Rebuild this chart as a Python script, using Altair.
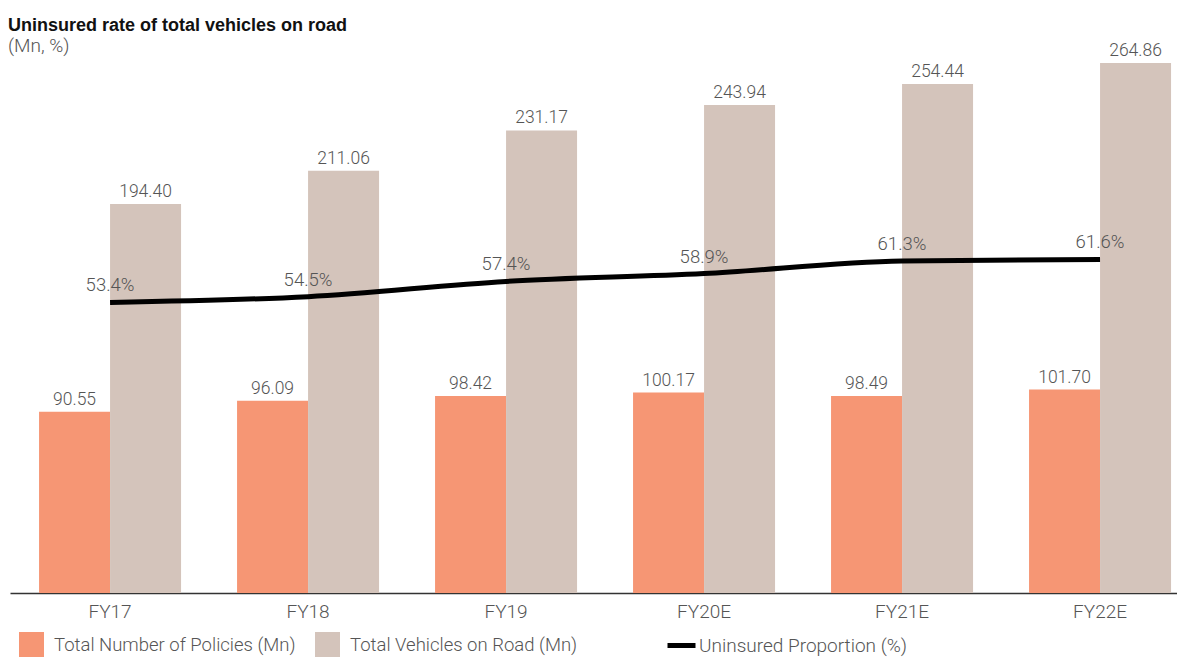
import altair as alt
import pandas as pd

categories = ["FY17", "FY18", "FY19", "FY20E", "FY21E", "FY22E"]
policies = [90.55, 96.09, 98.42, 100.17, 98.49, 101.70]
vehicles = [194.40, 211.06, 231.17, 243.94, 254.44, 264.86]
uninsured = [53.4, 54.5, 57.4, 58.9, 61.3, 61.6]

series_names = ["Total Number of Policies (Mn)", "Total Vehicles on Road (Mn)"]
line_name = "Uninsured Proportion (%)"
bar_colors = ["#F69674", "#D4C4BB"]

rows = []
for i, c in enumerate(categories):
    rows.append({"cat": c, "series": series_names[0], "value": policies[i]})
    rows.append({"cat": c, "series": series_names[1], "value": vehicles[i]})
bars_df = pd.DataFrame(rows)
line_df = pd.DataFrame({"cat": categories, "pct": uninsured, "name": [line_name] * len(categories)})

FONT = "Roboto"
TXT = "#555555"
LW = 300

x_enc = alt.X(
    "cat:N",
    sort=categories,
    scale=alt.Scale(paddingInner=0.2828, paddingOuter=0.0884, align=0.83),
    axis=alt.Axis(
        title=None, labelAngle=0, ticks=False, labelPadding=9, labelFontSize=19,
        labelColor=TXT, labelFont=FONT, labelFontWeight=LW,
        domainColor="#333333", domainWidth=1.5, grid=False,
    ),
)
y_bar = alt.Y("value:Q", scale=alt.Scale(domain=[0, 267.4], nice=False, zero=True), axis=None)

base_bar = alt.Chart(bars_df).encode(
    x=x_enc,
    xOffset=alt.XOffset("series:N", sort=series_names, scale=alt.Scale(domain=series_names, paddingInner=0, paddingOuter=0)),
    y=y_bar,
)
bars = base_bar.mark_bar().encode(
    color=alt.Color(
        "series:N",
        scale=alt.Scale(domain=series_names, range=bar_colors),
        legend=alt.Legend(
            title=None, orient="none", legendX=9, legendY=574, direction="horizontal",
            symbolType="square", symbolSize=625, symbolStrokeWidth=0, symbolOpacity=1,
            labelFontSize=18.5, labelColor=TXT, labelFont=FONT, labelFontWeight=LW,
            labelOffset=10, labelLimit=0, columnPadding=19, padding=0,
        ),
    )
)
bar_text = base_bar.mark_text(
    dy=-7, fontSize=17.5, color=TXT, font=FONT, fontWeight=LW, baseline="alphabetic"
).encode(text=alt.Text("value:Q", format=".2f"))

y_line = alt.Y("pct:Q", scale=alt.Scale(domain=[-2, 100], nice=False, zero=False), axis=None)
line = alt.Chart(line_df).mark_line(interpolate="monotone", strokeWidth=5).encode(
    x=alt.X("cat:N", sort=categories),
    y=y_line,
    stroke=alt.Stroke(
        "name:N",
        scale=alt.Scale(domain=[line_name], range=["#000000"]),
        legend=alt.Legend(
            title=None, orient="none", legendX=655, legendY=571, direction="horizontal",
            symbolType="stroke", symbolSize=784, symbolStrokeWidth=5,
            labelFontSize=19, labelColor=TXT, labelFont=FONT, labelFontWeight=LW,
            labelOffset=1, labelLimit=0, padding=0,
        ),
    ),
)
pct_text = alt.Chart(line_df).transform_calculate(
    label="format(datum.pct, '.1f') + '%'"
).mark_text(dy=-11, fontSize=18.5, color=TXT, font=FONT, fontWeight=LW, baseline="alphabetic").encode(
    x=alt.X("cat:N", sort=categories),
    y=y_line,
    text="label:N",
)

chart = alt.layer(
    alt.layer(bars, bar_text),
    alt.layer(line, pct_text),
).resolve_scale(y="independent").properties(
    width=1167,
    height=535,
    padding={"left": 2, "top": 50, "right": 0, "bottom": 64},
    autosize="none",
    title=alt.Title(
        "Uninsured  rate of total vehicles on road",
        subtitle="(Mn, %)",
        anchor="start",
        frame="group",
        fontSize=18,
        fontWeight="bold",
        font="Liberation Sans",
        color="#111111",
        subtitleFont=FONT,
        subtitleFontSize=19,
        subtitleFontWeight=LW,
        subtitleColor=TXT,
        subtitlePadding=2,
        offset=-14,
        dx=-2,
    ),
).configure_view(stroke=None)

chart.save("out.html", embed_options={"renderer": "svg", "actions": False})
